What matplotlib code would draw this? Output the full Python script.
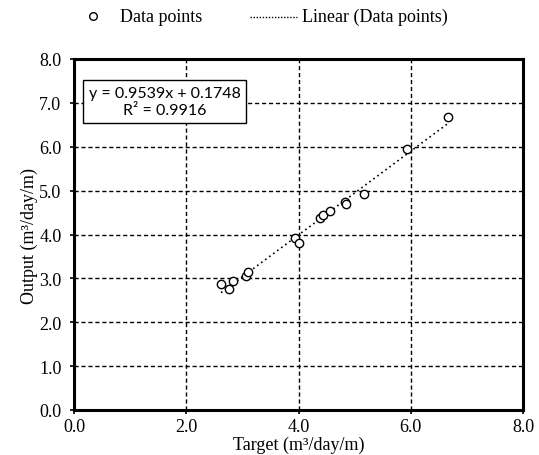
import matplotlib
matplotlib.use("Agg")
import matplotlib.pyplot as plt
import numpy as np
from matplotlib.lines import Line2D

# Data
target = [2.62, 2.77, 2.84, 3.07, 3.10, 3.93, 4.00, 4.39, 4.43, 4.56, 4.82, 4.85, 5.17, 5.94, 6.67]
output = [2.87, 2.75, 2.93, 3.06, 3.15, 3.93, 3.80, 4.37, 4.44, 4.54, 4.75, 4.69, 4.93, 5.94, 6.67]
slope = 0.9539
intercept = 0.1748
r2 = 0.9916
ticks = [0.0, 1.0, 2.0, 3.0, 4.0, 5.0, 6.0, 7.0, 8.0]
xticks = [0.0, 2.0, 4.0, 6.0, 8.0]

plt.rcParams['font.family'] = ['Liberation Serif', 'DejaVu Serif']

W, H = 539, 456
fig = plt.figure(figsize=(W/100, H/100), dpi=100)
ax = fig.add_axes([74/W, 1-411/H, (523-74)/W, (411-60)/H])

ax.plot(target, output, linestyle='none', marker='o', markersize=6,
        markerfacecolor='white', markeredgecolor='black', markeredgewidth=1.0,
        zorder=4, clip_on=False)
xs = np.array([min(target), max(target)])
ax.plot(xs, slope*xs + intercept, linestyle=(0, (1, 2)), color='black', lw=1.2, zorder=3)

ax.set_xlim(0, 8)
ax.set_ylim(0, 8)
ax.set_xticks(xticks)
ax.set_yticks(ticks)
ax.set_xticklabels([f"{t:.1f}" for t in xticks])
ax.set_yticklabels([f"{t:.1f}" for t in ticks])
ax.tick_params(direction='out', length=3, width=1.2, labelsize=13)
ax.tick_params(axis='y', pad=6)
ax.tick_params(axis='x', pad=3)
ax.grid(True, color='black', linestyle=(0, (3, 2)), linewidth=1.0)
for s in ax.spines.values():
    s.set_linewidth(2.2)

ax.set_xlabel("Target (m³/day/m)", fontsize=13)
ax.xaxis.set_label_coords(0.5, (411-437)/351)
ax.xaxis.label.set_va('top')
ax.set_ylabel("Output (m³/day/m)", fontsize=13)
ax.yaxis.set_label_coords((38-74)/449, 0.5)

ax.text(1.62, 7.03, f"y = {slope:.4f}x + {intercept:.4f}\nR² = {r2:.4f}",
        ha='center', va='center', fontsize=11.5, family=['Lato', 'DejaVu Sans'],
        linespacing=1.3, multialignment='center',
        bbox=dict(boxstyle='square,pad=0.35', facecolor='white', edgecolor='black', linewidth=1.0),
        zorder=6)

# Legend drawn at the top of the figure
ly = 1 - 17/H
fig.add_artist(Line2D([93/W], [ly], linestyle='none', marker='o', markersize=5.5,
                      markerfacecolor='white', markeredgecolor='black', markeredgewidth=1.0))
fig.text(120/W, ly, "Data points", ha='left', va='center', fontsize=13)
fig.add_artist(Line2D([250/W, 297/W], [ly - 1/H, ly - 1/H], linestyle=(0, (1, 1.2)),
                      color='black', lw=1.0))
fig.text(302/W, ly, "Linear (Data points)", ha='left', va='center', fontsize=13)

fig.savefig("out.png", dpi=100)
